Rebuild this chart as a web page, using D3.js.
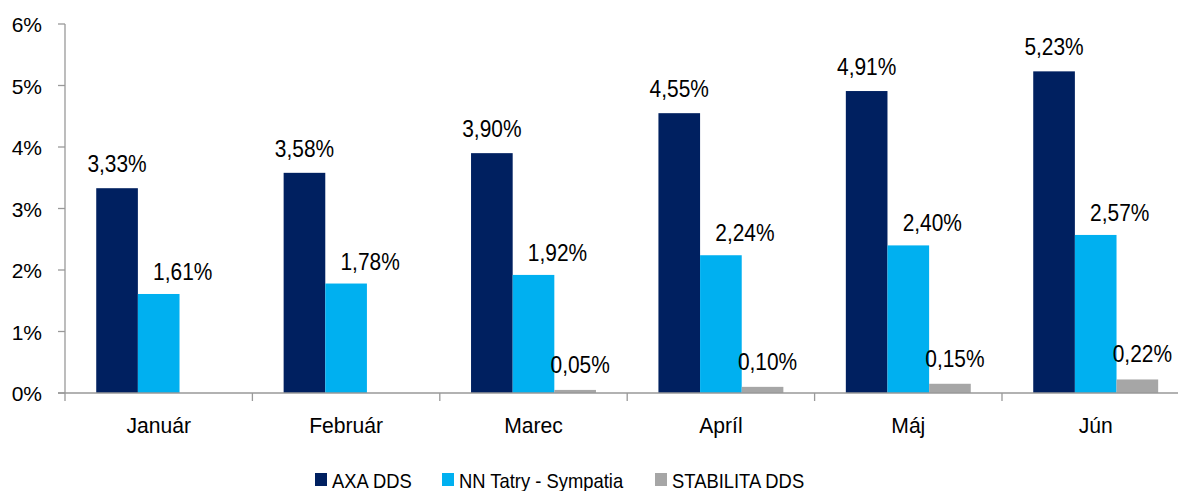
<!DOCTYPE html>
<html>
<head>
    <meta charset="utf-8">
    <script src="https://d3js.org/d3.v7.min.js"></script>
    <style>
        body { margin: 0; background: #fff; }
        text { font-family: "Liberation Sans", Arial, sans-serif; fill: #000; }
    </style>
</head>
<body>
    <svg id="chart"></svg>
    <script>
        // data
        var months = ["Január", "Február", "Marec", "Apríl", "Máj", "Jún"];
        var seriesNames = ["AXA DDS", "NN Tatry - Sympatia", "STABILITA DDS"];
        var axa = [3.33, 3.58, 3.90, 4.55, 4.91, 5.23];
        var nn = [1.61, 1.78, 1.92, 2.24, 2.40, 2.57];
        var stabilita = [null, null, 0.05, 0.10, 0.15, 0.22];
        var yTicks = [0, 1, 2, 3, 4, 5, 6];
        var colors = ["#002060", "#00b0f0", "#a6a6a6"];

        var width = 1178, height = 491;
        var svg = d3.select("#chart").attr("width", width).attr("height", height);

        var x0 = d3.scaleBand().domain(months).range([65, 1189.4]);
        var x1 = d3.scaleBand().domain([0, 1, 2])
            .range([0, x0.bandwidth()])
            .paddingOuter(0.75).paddingInner(0);
        var y = d3.scaleLinear().domain([0, 6]).range([393, 24]);

        var fmt = function (v) { return v.toFixed(2).replace(".", ",") + "%"; };
        // text in the original is a bit narrower than Liberation Sans
        var squeeze = function (px, py, sx) { return "translate(" + px + "," + py + ") scale(" + sx + ",1)"; };

        // y axis
        svg.append("line")
            .attr("x1", 65).attr("x2", 65)
            .attr("y1", y(6)).attr("y2", y(0))
            .style("stroke", "#999").style("stroke-width", 1.3);
        svg.append("g").selectAll("line")
            .data(yTicks)
            .join("line")
            .attr("x1", 58).attr("x2", 65)
            .attr("y1", d => y(d)).attr("y2", d => y(d))
            .style("stroke", "#999").style("stroke-width", 1.3);
        svg.append("g").selectAll("text")
            .data(yTicks)
            .join("text")
            .attr("x", 42)
            .attr("y", d => y(d) + 8)
            .attr("text-anchor", "end")
            .style("font-size", "21px")
            .text(d => d + "%");

        // bars
        var series = [axa, nn, stabilita];
        var labelShift = [0, 24, 5];
        var labelGap = [16, 14, 17];
        series.forEach(function (vals, si) {
            var pts = months.map((m, i) => ({ m: m, v: vals[i] })).filter(d => d.v != null);
            svg.append("g").selectAll("rect")
                .data(pts)
                .join("rect")
                .attr("x", d => x0(d.m) + x1(si))
                .attr("y", d => y(d.v))
                .attr("width", x1.bandwidth())
                .attr("height", d => y(0) - y(d.v))
                .style("fill", colors[si]);
            svg.append("g").selectAll("text")
                .data(pts)
                .join("text")
                .attr("transform", d => squeeze(x0(d.m) + x1(si) + x1.bandwidth() / 2 + labelShift[si], y(d.v) - labelGap[si], 0.89))
                .attr("text-anchor", "middle")
                .style("font-size", "23.5px")
                .text(d => fmt(d.v));
        });

        // x axis
        svg.append("line")
            .attr("x1", 58).attr("x2", width)
            .attr("y1", y(0)).attr("y2", y(0))
            .style("stroke", "#999").style("stroke-width", 1.3);
        svg.append("g").selectAll("line")
            .data(months)
            .join("line")
            .attr("x1", d => x0(d)).attr("x2", d => x0(d))
            .attr("y1", y(0)).attr("y2", y(0) + 8)
            .style("stroke", "#999").style("stroke-width", 1.3);
        svg.append("g").selectAll("text")
            .data(months)
            .join("text")
            .attr("transform", d => squeeze(x0(d) + x0.bandwidth() / 2, 433, 0.96))
            .attr("text-anchor", "middle")
            .style("font-size", "22px")
            .text(d => d);

        // legend
        var legendX = [315, 442, 655];
        var legend = svg.append("g").selectAll("g")
            .data(seriesNames)
            .join("g")
            .attr("transform", (d, i) => "translate(" + legendX[i] + ",473)");
        legend.append("rect")
            .attr("width", 12).attr("height", 13)
            .style("fill", (d, i) => colors[i]);
        legend.append("text")
            .attr("transform", squeeze(17, 15, 0.92))
            .style("font-size", "20px")
            .text(d => d);
    </script>
</body>
</html>
